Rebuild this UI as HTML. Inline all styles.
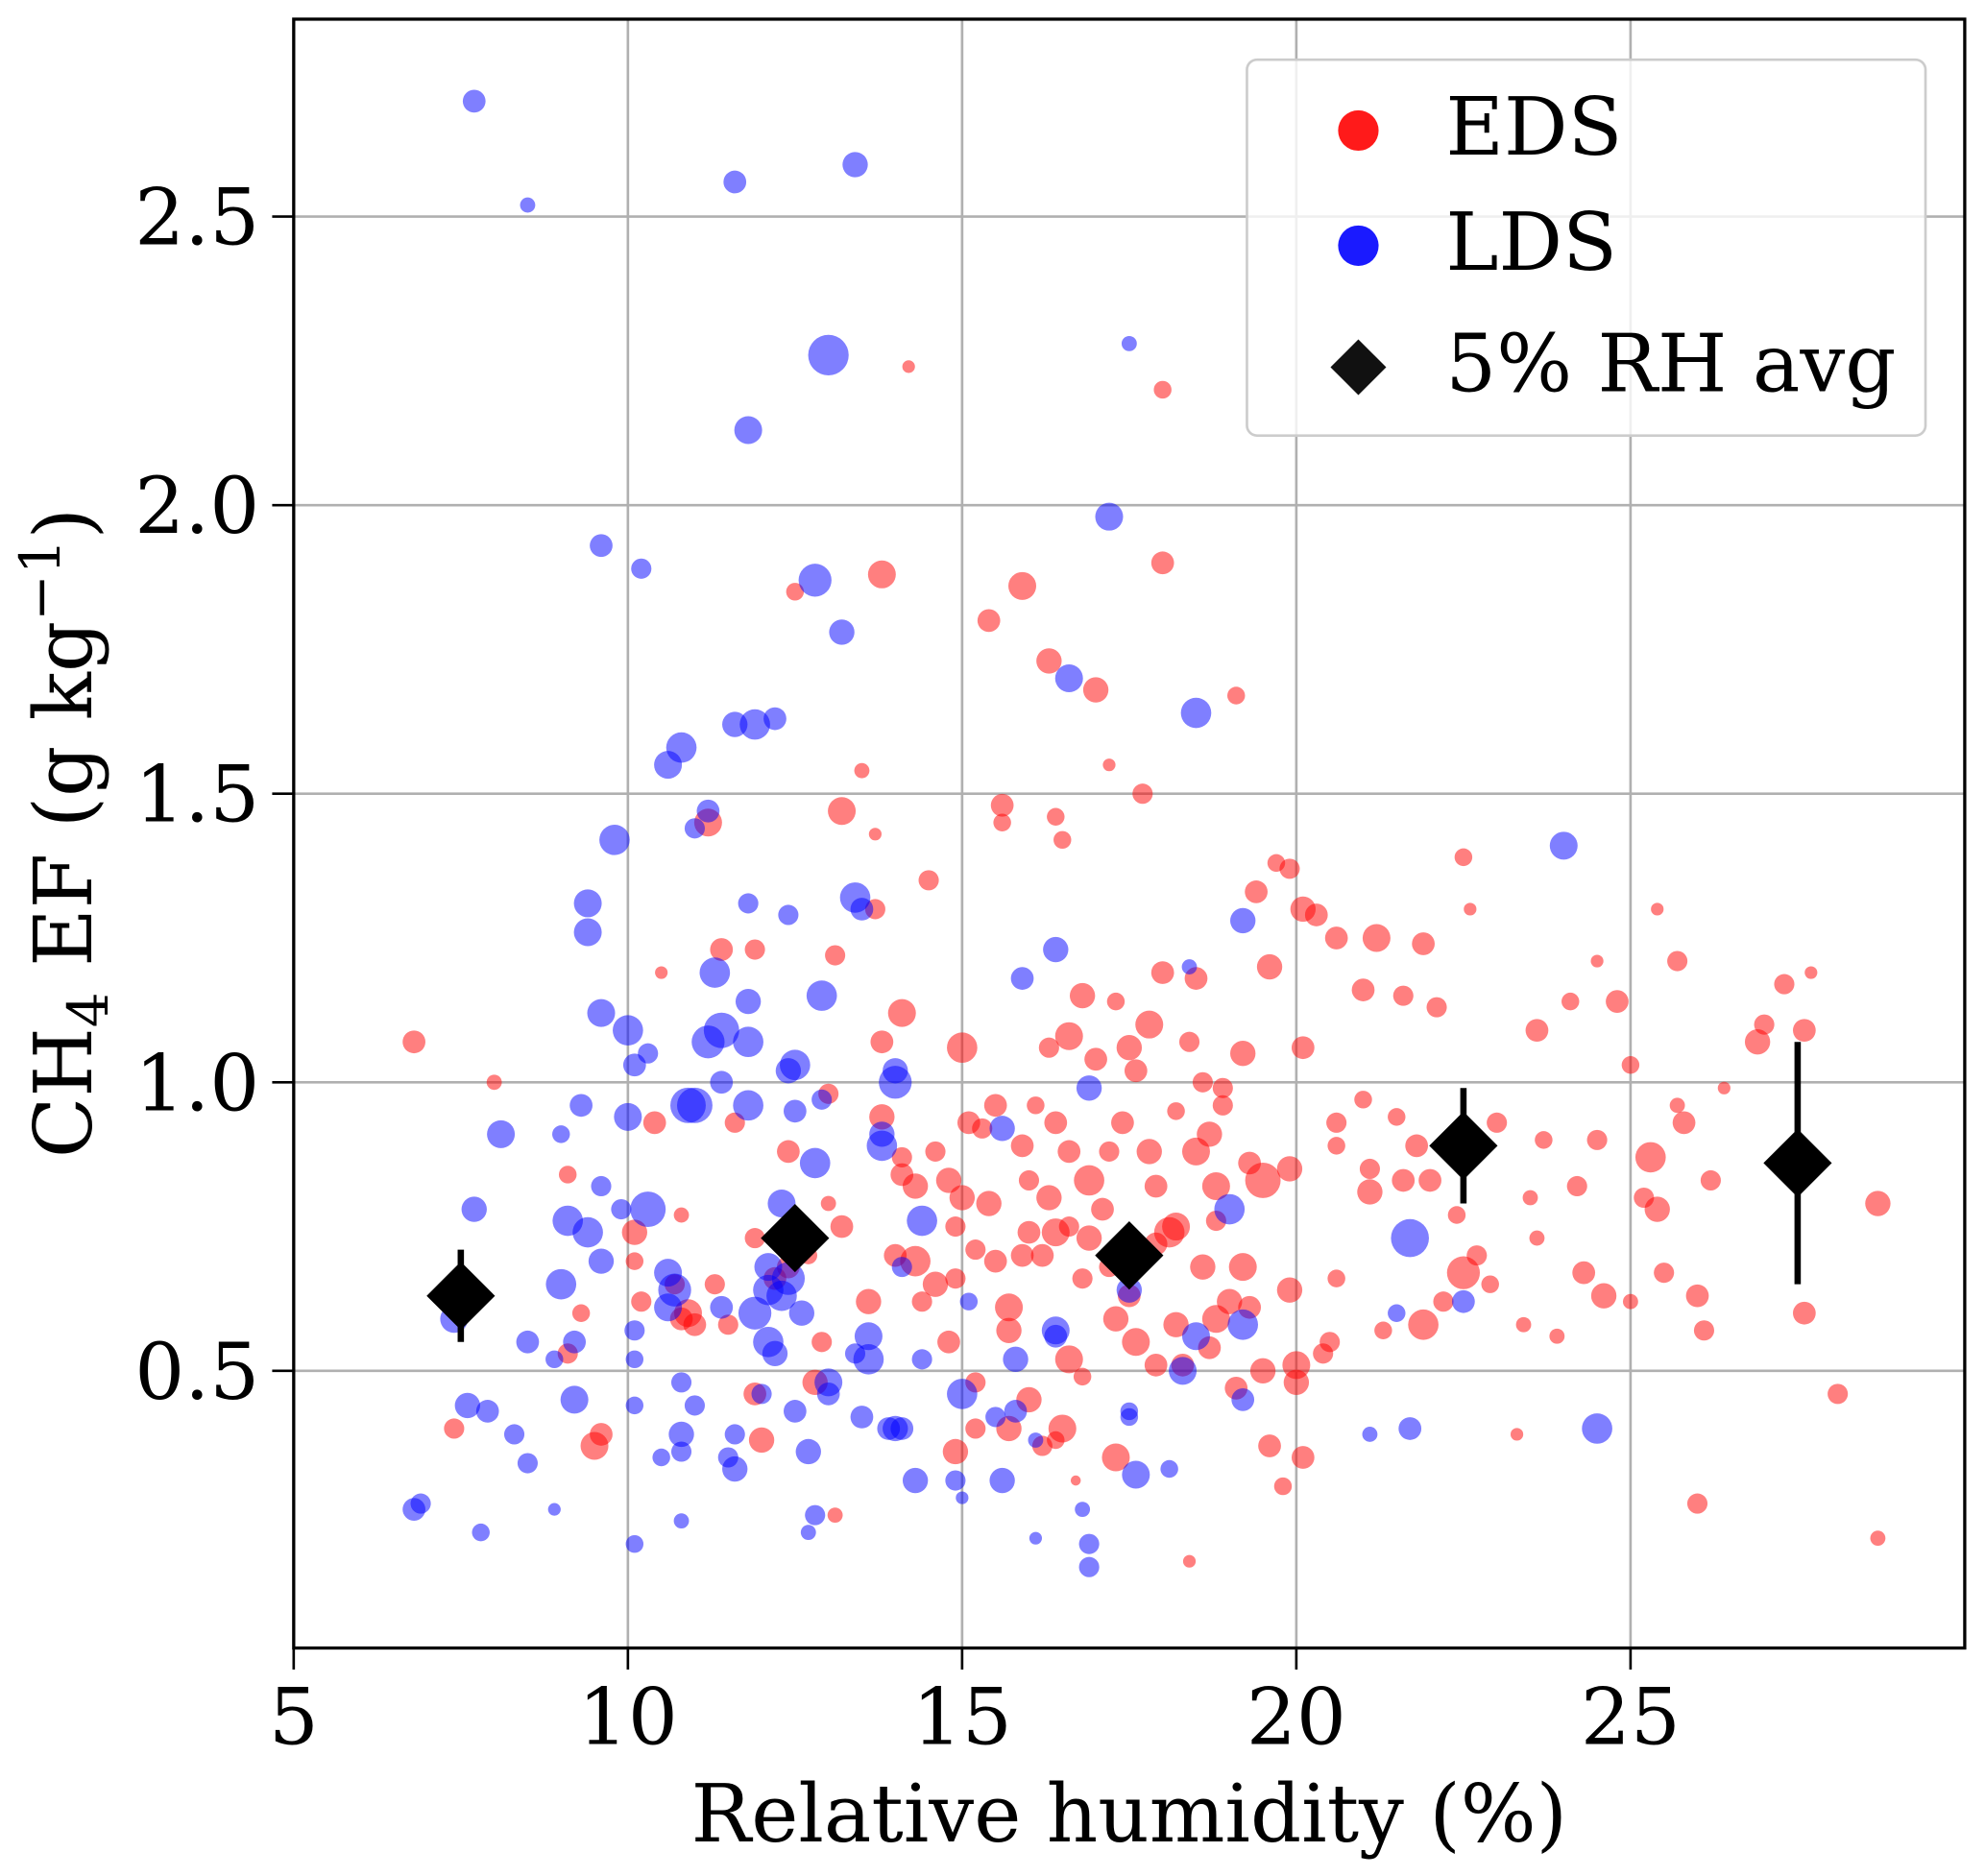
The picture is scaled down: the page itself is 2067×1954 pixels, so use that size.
<!DOCTYPE html>
<html><head><meta charset="utf-8"><style>
html,body{margin:0;padding:0;background:#fff;}
svg{display:block;font-family:"DejaVu Serif","Liberation Serif",serif;}
</style></head><body>
<svg id="chart" width="2067" height="1954" viewBox="0 0 1568 1482" xmlns="http://www.w3.org/2000/svg">
<rect x="0" y="0" width="1568" height="1482" fill="#fff"/>
<g id="grid"></g>
<g id="marks"></g>
<g id="axes"></g>
<g id="legend">
<rect x="985" y="47" width="536" height="297" rx="8" fill="#fff" fill-opacity="0.8" stroke="#ccc" stroke-width="2"/>
<circle cx="1073" cy="103" r="16" fill="#ff1a1a"/>
<text x="1142" y="122" font-size="63">EDS</text>
<circle cx="1073" cy="194" r="16" fill="#1a1aff"/>
<text x="1142" y="213" font-size="63">LDS</text>
<polygon points="1073,268 1095,290 1073,312 1051,290" fill="#111"/>
<text x="1142" y="309" font-size="63">5% RH avg</text>
</g>
<text x="892" y="1455" font-size="63" text-anchor="middle">Relative humidity (%)</text>
<text transform="translate(72,658) rotate(-90)" font-size="63" text-anchor="middle">CH<tspan font-size="44" dy="13">4</tspan><tspan dy="-13"> EF (g kg</tspan><tspan font-size="44" dy="-25">−1</tspan><tspan dy="25">)</tspan></text>
</svg>
<script>
const xTicks=[5,10,15,20,25];
const yTicks=[0.5,1.0,1.5,2.0,2.5];
const yTickLabels=["0.5","1.0","1.5","2.0","2.5"];
const edsX=[6.8,8.0,7.4,9.1,9.1,9.3,9.5,9.6,10.1,10.1,10.2,10.4,10.5,10.7,10.8,10.8,10.9,11.0,11.2,11.4,11.3,11.5,11.6,11.9,11.9,11.9,12.0,12.2,12.4,12.4,12.5,12.6,12.7,12.8,12.9,13.0,13.0,13.1,13.1,13.2,13.2,13.5,13.6,13.7,13.7,13.8,13.8,13.8,14.0,14.1,14.1,14.2,14.1,14.3,14.3,14.5,14.6,14.6,14.8,14.8,14.9,14.9,15.0,15.0,15.1,15.2,15.2,15.4,15.4,15.5,15.5,15.6,15.6,15.7,15.7,15.9,15.9,16.0,16.0,16.1,16.2,16.3,16.3,16.3,16.4,16.4,16.4,16.5,16.5,16.6,16.6,16.6,16.7,16.8,16.8,16.9,16.9,17.0,17.0,17.1,17.2,17.2,17.3,17.3,17.4,17.5,17.5,17.6,17.6,17.7,17.8,17.8,17.9,17.9,18.0,18.0,18.0,18.1,18.2,18.2,18.3,18.4,18.5,18.5,18.6,18.6,18.7,18.8,18.8,18.9,19.0,19.1,19.1,19.2,19.2,19.3,19.4,19.5,19.5,19.6,19.6,19.7,19.8,19.9,19.9,19.9,20.0,20.0,20.1,20.1,20.1,20.3,20.5,20.6,20.6,20.6,20.6,21.0,21.0,21.1,21.1,21.2,21.3,21.5,21.6,21.6,21.8,21.9,21.9,22.0,22.1,22.2,22.4,22.4,22.5,22.5,22.6,22.7,22.9,23.0,23.3,23.4,23.5,23.6,23.6,23.7,23.9,24.1,24.2,24.3,24.5,24.5,24.6,24.8,25.0,25.0,25.2,25.3,25.4,25.4,25.5,25.7,25.7,25.8,26.0,26.0,26.1,26.2,26.4,26.9,27.0,27.3,27.6,27.6,27.7,28.1,28.7,28.7,18.4,15.9,16.2,16.6,17.2,18.8,19.3,20.4,14.9,15.3,16.0,16.8,17.3,18.7,14.4,15.7,16.4,15.2,18.2,17.9,18.9,19.7];
const edsY=[1.07,1.00,0.40,0.84,0.53,0.60,0.37,0.39,0.69,0.74,0.62,0.93,1.19,0.65,0.59,0.77,0.60,0.58,1.45,1.23,0.65,0.58,0.93,1.23,0.73,0.46,0.38,0.66,0.68,0.88,1.85,0.73,0.70,0.48,0.55,0.79,0.98,1.22,0.25,0.75,1.47,1.54,0.62,1.43,1.30,1.88,1.07,0.94,0.70,0.84,1.12,2.24,0.87,0.82,0.69,1.35,0.88,0.65,0.83,0.55,0.36,0.66,1.06,0.80,0.93,0.71,0.48,1.80,0.79,0.96,0.69,1.48,1.45,0.61,0.57,1.86,0.89,0.74,0.45,0.96,0.37,1.06,0.80,1.73,0.93,1.46,0.74,1.42,0.40,1.08,0.52,0.88,0.31,0.66,1.15,0.83,0.73,1.68,1.04,0.78,1.55,0.88,1.14,0.35,0.93,1.06,0.63,1.02,0.55,1.50,0.88,1.10,0.72,0.51,2.20,1.90,1.19,0.74,0.58,0.75,0.51,1.07,0.88,1.18,1.00,0.68,0.91,0.82,0.59,0.99,0.62,1.67,0.47,0.68,1.05,0.86,1.33,0.83,0.50,1.20,0.37,1.38,0.30,1.37,0.85,0.64,0.48,0.51,1.30,0.35,1.06,1.29,0.55,0.93,0.89,0.66,1.25,1.16,0.97,0.85,0.81,1.25,0.57,0.94,0.83,1.15,0.89,0.58,1.24,0.83,1.13,0.62,0.77,0.89,0.67,1.39,1.30,0.70,0.65,0.93,0.39,0.58,0.80,0.73,1.09,0.90,0.56,1.14,0.82,0.67,0.90,1.21,0.63,1.14,1.03,0.62,0.80,0.87,1.30,0.78,0.67,1.21,0.96,0.93,0.63,0.27,0.57,0.83,0.99,1.07,1.10,1.17,1.09,0.60,1.19,0.46,0.79,0.21,0.17,0.70,0.70,0.75,0.68,0.76,0.61,0.53,0.75,0.92,0.83,0.49,0.59,0.54,0.62,0.40,0.38,0.40,0.95,0.82,0.96,0.69];
const edsSize=[9,6,8,7,8,7,11,9,7,10,8,9,5,8,9,6,11,9,11,9,8,8,8,8,8,9,10,9,9,9,7,8,7,10,8,6,8,8,6,9,11,6,10,5,8,11,9,10,9,9,11,5,8,10,12,8,8,10,10,9,10,8,12,10,9,8,8,9,10,9,9,9,7,11,10,11,9,9,10,7,8,8,10,10,9,7,11,7,11,11,11,9,4,8,10,12,10,10,9,9,5,8,7,11,9,10,9,9,11,8,10,11,9,9,7,9,9,12,10,11,9,8,11,9,8,10,10,11,11,8,10,7,9,11,10,9,9,14,10,10,9,7,7,8,10,10,10,11,10,9,9,9,8,8,7,7,9,9,7,8,10,11,7,7,9,8,9,12,9,9,8,8,7,9,13,7,5,8,7,8,5,6,6,6,9,7,6,7,8,9,8,5,10,9,7,6,8,12,5,10,8,8,6,9,9,8,8,8,5,10,8,8,9,9,5,8,10,6,5,9,9,8,8,8,9,8,8,8,8,7,10,9,8,10,7,8,7,9,8];
const ldsX=[7.7,8.5,11.6,13.4,13.0,17.5,11.8,9.6,10.2,12.8,13.2,17.2,18.5,16.6,10.8,10.6,11.6,11.9,12.2,11.2,11.0,9.8,9.4,9.4,13.4,13.5,11.8,12.4,11.3,11.8,12.9,9.6,10.0,11.4,11.2,11.8,10.3,12.5,12.4,14.0,14.0,10.1,11.4,11.0,10.9,11.8,12.9,12.5,9.3,10.0,8.1,9.0,9.6,9.9,10.3,7.7,9.1,9.4,9.0,9.6,10.6,10.7,10.6,11.4,12.1,12.3,12.4,12.1,12.3,12.8,12.6,11.9,12.2,12.1,10.1,10.1,8.5,8.9,9.2,7.4,7.6,7.9,8.3,8.5,9.2,10.1,10.8,11.0,10.8,10.8,10.5,11.5,11.6,11.6,12.0,12.5,12.7,13.0,13.0,13.6,13.6,13.4,13.5,13.9,14.0,14.4,14.3,14.9,15.0,15.0,15.1,15.6,15.8,15.5,15.8,16.1,16.1,16.4,16.4,16.8,16.9,16.9,17.5,17.5,17.6,17.5,18.1,18.3,18.5,19.0,19.2,19.2,19.2,18.4,16.4,15.9,15.6,16.9,14.4,14.1,13.8,13.8,14.1,6.8,6.9,7.8,8.9,10.1,10.8,12.7,12.8,21.5,21.7,21.7,21.1,22.5,24.0,24.5];
const ldsY=[2.70,2.52,2.56,2.59,2.26,2.28,2.13,1.93,1.89,1.87,1.78,1.98,1.64,1.70,1.58,1.55,1.62,1.62,1.63,1.47,1.44,1.42,1.31,1.26,1.32,1.30,1.31,1.29,1.19,1.14,1.15,1.12,1.09,1.09,1.07,1.07,1.05,1.03,1.02,1.00,1.02,1.03,1.00,0.96,0.96,0.96,0.97,0.95,0.96,0.94,0.91,0.91,0.82,0.78,0.78,0.78,0.76,0.74,0.65,0.69,0.67,0.64,0.61,0.61,0.64,0.63,0.66,0.68,0.79,0.86,0.60,0.60,0.53,0.55,0.57,0.52,0.55,0.52,0.55,0.59,0.44,0.43,0.39,0.34,0.45,0.44,0.48,0.44,0.39,0.36,0.35,0.35,0.33,0.39,0.46,0.43,0.36,0.48,0.46,0.52,0.56,0.53,0.42,0.40,0.40,0.52,0.31,0.31,0.28,0.46,0.62,0.31,0.43,0.42,0.52,0.38,0.21,0.57,0.56,0.26,0.20,0.16,0.43,0.42,0.32,0.64,0.33,0.50,0.56,0.78,0.58,0.45,1.28,1.20,1.23,1.18,0.92,0.99,0.76,0.68,0.89,0.91,0.40,0.26,0.27,0.22,0.26,0.20,0.24,0.22,0.25,0.60,0.73,0.40,0.39,0.62,1.41,0.40];
const ldsSize=[9,6,9,10,16,6,11,9,8,13,10,11,12,11,12,11,10,12,9,9,8,12,11,11,12,9,8,8,12,10,12,11,12,14,13,12,8,12,10,13,10,9,9,14,14,12,8,9,9,11,11,7,8,8,14,10,12,12,12,10,11,13,11,9,12,12,13,11,11,12,10,13,10,12,8,7,9,7,9,11,10,9,8,8,11,7,8,8,10,8,7,8,10,8,8,9,10,11,9,12,11,8,9,9,10,8,10,8,5,12,7,10,9,8,10,6,5,11,9,6,8,8,7,7,11,10,7,11,11,12,12,9,10,6,10,9,10,10,12,8,12,10,9,9,8,7,5,7,6,6,8,7,15,9,6,9,11,12,9];
const avgX=[7.5,12.5,17.5,22.5,27.5];
const avgY=[0.63,0.73,0.70,0.89,0.86];
const avgErr=[0.08,0.05,0.05,0.10,0.21];

const L=232,R=1552,T=15,B=1302;
const xs=v=>232+(v-5)*52.8;
const ys=v=>855-(v-1)*456;
const NS="http://www.w3.org/2000/svg";
function mk(t,a,p){const e=document.createElementNS(NS,t);for(const k in a)e.setAttribute(k,a[k]);p.appendChild(e);return e;}
const grid=document.getElementById('grid'),marks=document.getElementById('marks'),axes=document.getElementById('axes');
xTicks.forEach(t=>{
  const g=mk('line',{x1:xs(t),x2:xs(t),y1:T,y2:B,stroke:'#b0b0b0','stroke-width':2},grid);
  
  
  const tk=mk('line',{x1:xs(t),x2:xs(t),y1:B,y2:B+17,stroke:'#000','stroke-width':2},axes);
  
  
  const lb=mk('text',{x:xs(t),y:1378,'font-size':62,'text-anchor':'middle'},axes);
  lb.textContent=String(t);
  
  
});
yTicks.forEach((t,i)=>{
  const g=mk('line',{x1:L,x2:R,y1:ys(t),y2:ys(t),stroke:'#b0b0b0','stroke-width':2},grid);
  
  
  const tk=mk('line',{x1:L-17,x2:L,y1:ys(t),y2:ys(t),stroke:'#000','stroke-width':2},axes);
  
  
  const lb=mk('text',{x:205,y:ys(t)+22,'font-size':62,'text-anchor':'end'},axes);
  lb.textContent=yTickLabels[i];
  
  
});
edsX.forEach((x,i)=>{
  const c=mk('circle',{cx:xs(x),cy:ys(edsY[i]),r:edsSize[i],fill:'rgba(255,0,0,0.5)'},marks);
  
  
});
ldsX.forEach((x,i)=>{
  const c=mk('circle',{cx:xs(x),cy:ys(ldsY[i]),r:ldsSize[i],fill:'rgba(0,0,255,0.5)'},marks);
  
  
});
avgX.forEach((x,i)=>{
  const cx=xs(x),cy=ys(avgY[i]);
  const e=mk('line',{x1:cx,x2:cx,y1:ys(avgY[i]+avgErr[i]),y2:ys(avgY[i]-avgErr[i]),stroke:'#000','stroke-width':5},marks);
  
  
  const d=mk('polygon',{points:`${cx},${cy-27} ${cx+27},${cy} ${cx},${cy+27} ${cx-27},${cy}`,fill:'#000'},marks);
  
  
});
const fr=mk('rect',{x:L,y:T,width:R-L,height:B-T,fill:'none',stroke:'#000','stroke-width':2.5},axes);


</script>
</body></html>
